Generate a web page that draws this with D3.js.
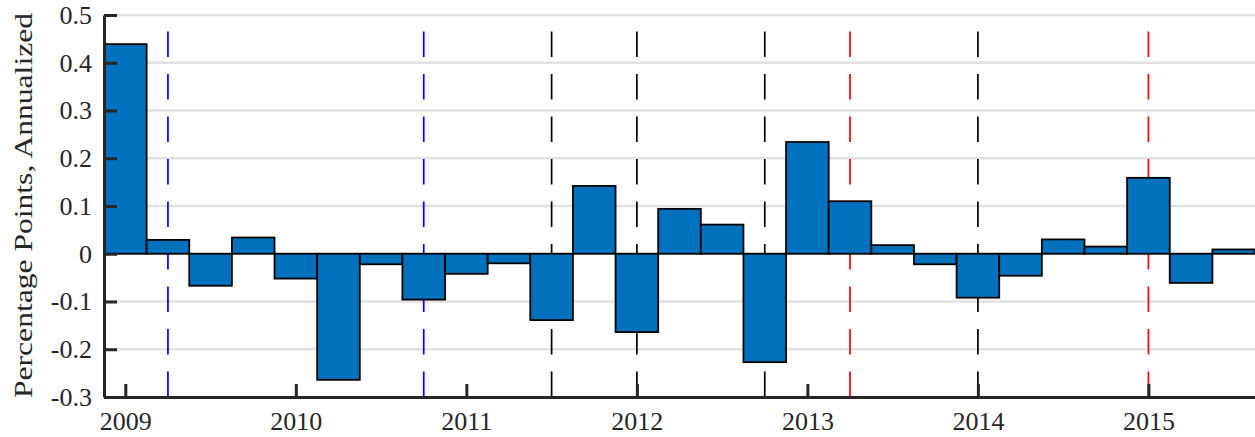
<!DOCTYPE html>
<html>
<head>
<meta charset="utf-8">
<script src="https://cdn.jsdelivr.net/npm/d3@7"></script>
<style>
  html, body { margin: 0; padding: 0; background: #fff; }
  svg { display: block; }
  svg text { font-family: "Liberation Serif", serif !important; fill: #262626; }
</style>
</head>
<body>
<svg id="chart" width="1255" height="437"></svg>
<script>
// ---- data ----
const quarters = [
  2009.00, 2009.25, 2009.50, 2009.75,
  2010.00, 2010.25, 2010.50, 2010.75,
  2011.00, 2011.25, 2011.50, 2011.75,
  2012.00, 2012.25, 2012.50, 2012.75,
  2013.00, 2013.25, 2013.50, 2013.75,
  2014.00, 2014.25, 2014.50, 2014.75,
  2015.00, 2015.25, 2015.50
];
const values = [
  0.439, 0.029, -0.067, 0.034,
  -0.052, -0.264, -0.022, -0.096,
  -0.042, -0.020, -0.139, 0.142,
  -0.164, 0.094, 0.061, -0.227,
  0.234, 0.110, 0.018, -0.022,
  -0.092, -0.046, 0.030, 0.015,
  0.159, -0.061, 0.009
];
const blueEvents = [2009.25, 2010.75];
const blackEvents = [2011.50, 2012.00, 2012.75, 2014.00];
const redEvents = [2013.25, 2015.00];
const xTickValues = [2009, 2010, 2011, 2012, 2013, 2014, 2015];
const xTickLabels = ["2009", "2010", "2011", "2012", "2013", "2014", "2015"];
const yTickValues = [-0.3, -0.2, -0.1, 0, 0.1, 0.2, 0.3, 0.4, 0.5];
const yTickLabels = ["-0.3", "-0.2", "-0.1", "0", "0.1", "0.2", "0.3", "0.4", "0.5"];
const yLabel = "Percentage Points, Annualized";

// ---- layout ----
const svg = d3.select("#chart");
const plotLeft = 104, plotRight = 1255, plotTop = 15, plotBottom = 397;
const halfQ = 0.125;
const serif = '"Liberation Serif", serif';

const x = d3.scaleLinear().domain([2008.875, 2015.625]).range([plotLeft, plotRight]);
const y = d3.scaleLinear().domain([-0.3, 0.5]).range([plotBottom, plotTop]);

// gridlines
svg.append("g").selectAll("line").data(yTickValues).join("line")
  .attr("x1", plotLeft).attr("x2", plotRight)
  .attr("y1", d => y(d)).attr("y2", d => y(d))
  .attr("stroke", "#e1e1e1").attr("stroke-width", 2.5);

// event lines (drawn bottom to top, behind bars)
const events = [
  ...blueEvents.map(t => ({t, c: "#0000ff"})),
  ...blackEvents.map(t => ({t, c: "#000000"})),
  ...redEvents.map(t => ({t, c: "#ff0000"}))
];
svg.append("g").selectAll("line").data(events).join("line")
  .attr("x1", d => x(d.t)).attr("x2", d => x(d.t))
  .attr("y1", plotBottom).attr("y2", plotTop)
  .attr("stroke", d => d.c).attr("stroke-width", 1.7)
  .attr("stroke-dasharray", "25.5,17");

// bars
const data = quarters.map((t, i) => ({t, v: values[i]}));
svg.append("g").selectAll("rect").data(data).join("rect")
  .attr("x", d => x(d.t - halfQ))
  .attr("width", d => x(d.t + halfQ) - x(d.t - halfQ))
  .attr("y", d => y(Math.max(0, d.v)))
  .attr("height", d => Math.abs(y(d.v) - y(0)))
  .attr("fill", "#0072BD")
  .attr("stroke", "#000").attr("stroke-width", 1.8);

// axes
const yAxis = d3.axisLeft(y)
  .tickValues(yTickValues)
  .tickFormat((d, i) => yTickLabels[i])
  .tickSizeInner(-13).tickSizeOuter(0).tickPadding(12);
const gy = svg.append("g").attr("transform", `translate(${plotLeft},0)`).call(yAxis);

const xAxis = d3.axisBottom(x)
  .tickValues(xTickValues)
  .tickFormat((d, i) => xTickLabels[i])
  .tickSizeInner(-13).tickSizeOuter(0).tickPadding(15);
const gx = svg.append("g").attr("transform", `translate(0,${plotBottom})`).call(xAxis);

[gy, gx].forEach(g => {
  g.attr("font-family", serif).attr("font-size", 26);
  g.select(".domain").attr("stroke", "#262626").attr("stroke-width", 3);
  g.selectAll(".tick line").attr("stroke", "#262626").attr("stroke-width", 3);
  g.selectAll(".tick text")
    .attr("fill", "#262626")
    .attr("font-family", serif)
    .attr("font-size", 26);
});

// y label
svg.append("text")
  .attr("transform", `translate(32,${(13 + 398) / 2}) rotate(-90)`)
  .attr("text-anchor", "middle")
  .attr("font-family", serif)
  .attr("font-size", 26)
  .attr("textLength", 385)
  .attr("lengthAdjust", "spacingAndGlyphs")
  .text(yLabel);
</script>
</body>
</html>
